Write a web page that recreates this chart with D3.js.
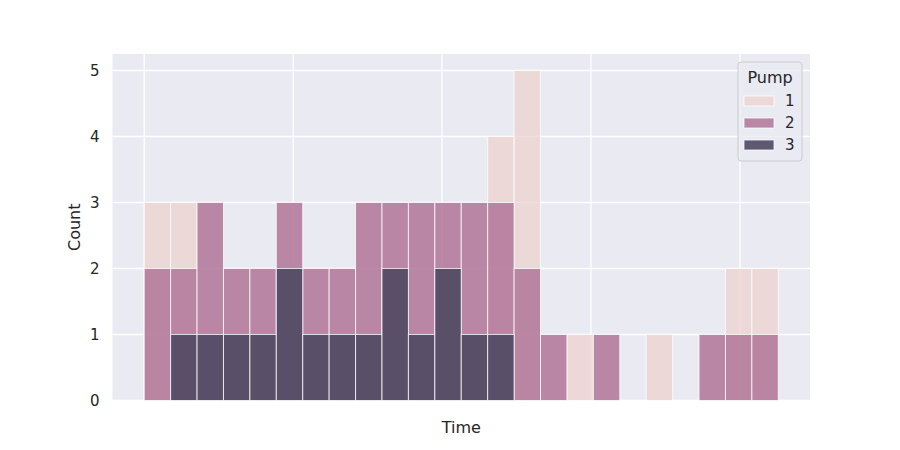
<!DOCTYPE html>
<html>
<head>
<meta charset="utf-8">
<script src="https://cdn.jsdelivr.net/npm/d3@7"></script>
<style>
  body { margin: 0; background: #fff; }
  text { font-family: "DejaVu Sans", sans-serif; fill: #262626; }
</style>
</head>
<body>
<div id="chart"></div>
<script>
// histogram counts per time bin, one array per pump
const bins = d3.range(24)
const pump1 = [3,3,0,0,0,0,0,0,0,0,0,0,0,4,5,0,1,0,0,1,0,0,2,2]
const pump2 = [2,2,3,2,2,3,2,2,3,3,3,3,3,3,2,1,0,1,0,0,0,1,1,1]
const pump3 = [0,1,1,1,1,2,1,1,1,2,1,2,1,1,0,0,0,0,0,0,0,0,0,0]
const pumps = ['1', '2', '3']
const xTicks = [0, 5.64, 11.27, 16.91, 22.55]
const yTicks = [0, 1, 2, 3, 4, 5]

const width = 900, height = 450
const margin = ({top: 54, right: 90, bottom: 49.5, left: 112.5})
const visWidth = width - margin.left - margin.right
const visHeight = height - margin.top - margin.bottom

const color = d3.scaleOrdinal().domain(pumps).range(['#ecd2cd', '#b47c9c', '#4f4962'])
const alpha = d3.scaleOrdinal().domain(pumps).range([0.75, 0.9, 0.9])

const series = [pump1, pump2, pump3].map((vals, i) => ({
  name: pumps[i],
  values: bins.map(b => ({bin: b, count: vals[b]}))
}))

const x = d3.scaleLinear().domain([-1.2, 25.2]).range([0, visWidth])
const y = d3.scaleLinear().domain([0, 5.25]).range([visHeight, 0])

const svg = d3.select('#chart').append('svg')
    .attr('width', width)
    .attr('height', height)

const g = svg.append('g')
    .attr('transform', `translate(${margin.left}, ${margin.top})`)

// axes background
g.append('rect')
    .attr('width', visWidth)
    .attr('height', visHeight)
    .attr('fill', '#eaeaf2')

// grid lines
g.append('g').selectAll('line')
  .data(xTicks)
  .join('line')
    .attr('x1', d => x(d)).attr('x2', d => x(d))
    .attr('y1', 0).attr('y2', visHeight)
    .attr('stroke', 'white').attr('stroke-width', 1.3)
g.append('g').selectAll('line')
  .data(yTicks)
  .join('line')
    .attr('x1', 0).attr('x2', visWidth)
    .attr('y1', d => y(d)).attr('y2', d => y(d))
    .attr('stroke', 'white').attr('stroke-width', 1.3)

// y axis labels
g.append('g')
    .call(d3.axisLeft(y).tickValues(yTicks).tickSize(0).tickPadding(13).tickFormat(d3.format('d')))
    .call(g => g.select('.domain').remove())
    .call(g => g.selectAll('text').attr('font-size', 15).attr('fill', '#262626').attr('font-family', 'DejaVu Sans'))

// x axis (no tick labels)
g.append('g')
    .attr('transform', `translate(0, ${visHeight})`)
    .call(d3.axisBottom(x).tickValues(xTicks).tickSize(0).tickFormat(''))
    .call(g => g.select('.domain').remove())

// bars, layered
g.selectAll('.layer')
  .data(series)
  .join('g')
    .attr('class', 'layer')
    .attr('fill', d => color(d.name))
    .attr('fill-opacity', d => alpha(d.name))
  .selectAll('rect')
    .data(d => d.values.filter(v => v.count > 0))
    .join('rect')
      .attr('x', d => x(d.bin))
      .attr('y', d => y(d.count))
      .attr('width', x(1) - x(0))
      .attr('height', d => y(0) - y(d.count))
      .attr('stroke', 'white')
      .attr('stroke-opacity', 0.75)
      .attr('stroke-width', 1)

// axis labels
svg.append('text')
    .attr('x', margin.left + visWidth / 2)
    .attr('y', 433)
    .attr('text-anchor', 'middle')
    .attr('font-size', 16)
    .text('Time')
svg.append('text')
    .attr('transform', `translate(80, ${margin.top + visHeight / 2}) rotate(-90)`)
    .attr('text-anchor', 'middle')
    .attr('font-size', 16)
    .text('Count')

// legend
const legend = svg.append('g').attr('transform', 'translate(738, 62)')
legend.append('rect')
    .attr('width', 64)
    .attr('height', 99)
    .attr('rx', 3)
    .attr('fill', '#eaeaf2')
    .attr('fill-opacity', 0.8)
    .attr('stroke', '#cccccc')
legend.append('text')
    .attr('x', 32)
    .attr('y', 20.5)
    .attr('text-anchor', 'middle')
    .attr('font-size', 16)
    .text('Pump')
const rows = legend.selectAll('.row')
  .data(pumps)
  .join('g')
    .attr('class', 'row')
    .attr('transform', (d, i) => `translate(0, ${34 + i * 22})`)
rows.append('rect')
    .attr('x', 6)
    .attr('width', 30)
    .attr('height', 10)
    .attr('fill', d => color(d))
    .attr('fill-opacity', d => alpha(d))
    .attr('stroke', 'white')
    .attr('stroke-opacity', 0.75)
rows.append('text')
    .attr('x', 47)
    .attr('y', 10)
    .attr('font-size', 15)
    .text(d => d)
</script>
</body>
</html>
